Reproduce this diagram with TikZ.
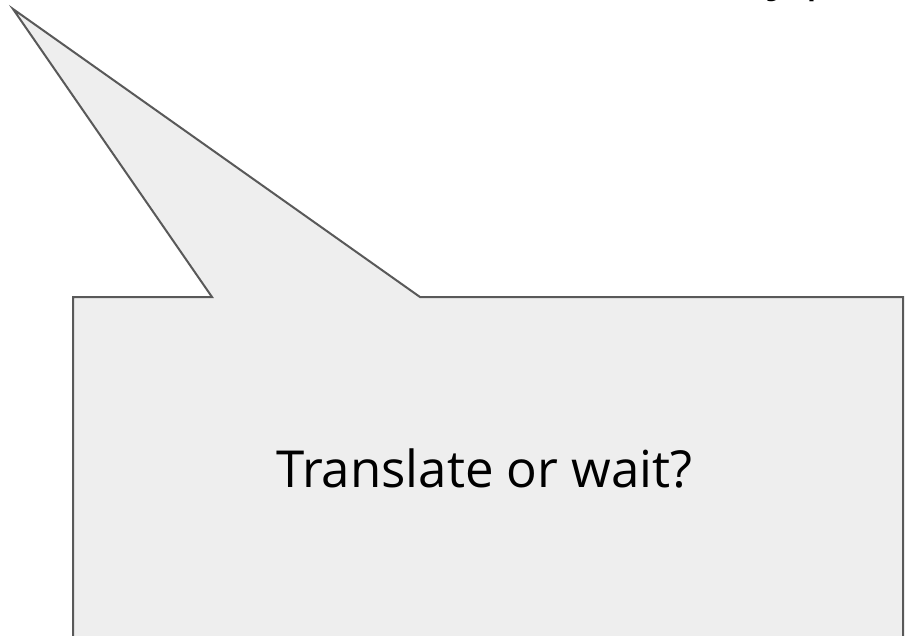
\documentclass[tikz,border=0pt]{standalone}
\usepackage{fontspec}
\setmainfont{Open Sans}
\usetikzlibrary{math}

\begin{document}
\begin{tikzpicture}[x=1pt,y=-1pt,line width=2pt,line join=miter]

  \tikzmath{
    \boxleft  = 73;  % left edge of the callout box
    \boxright = 903; % right edge of the callout box
    \boxtop   = 297; % top edge of the callout box
    \boxdown  = 660; % bottom edge, below the page
  }

  \definecolor{calloutfill}{HTML}{EEEEEE}
  \definecolor{calloutline}{HTML}{595959}

  \useasboundingbox (0,0) rectangle (905,635);

  % tip of the tail and where it meets the box
  \coordinate (tip)   at (13, 9);
  \coordinate (tailA) at (212, \boxtop);
  \coordinate (tailB) at (420, \boxtop);

  % callout shape
  \draw[fill=calloutfill, draw=calloutline]
    (\boxleft, \boxdown) -- (\boxleft, \boxtop) -- (tailA) -- (tip) -- (tailB)
    -- (\boxright, \boxtop) -- (\boxright, \boxdown);

  % question inside the box
  \node[font=\fontsize{51}{60}\selectfont, inner sep=0pt, anchor=base] (question)
    at (484.5, 487) {Translate or wait?};

  % title line above the page, only its descenders show
  \node[font=\fontsize{51}{60}\selectfont, inner sep=0pt, anchor=base west]
    (title) at (766, -10.5) {y p};

\end{tikzpicture}
\end{document}
